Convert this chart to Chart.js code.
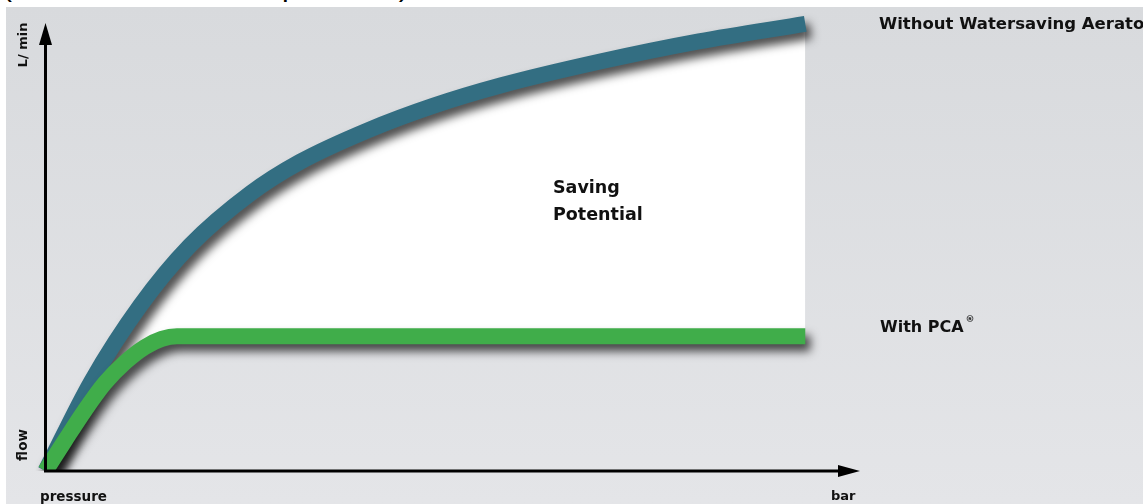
<!DOCTYPE html>
<html>
<head>
<meta charset="utf-8">
<script src="https://cdn.jsdelivr.net/npm/chart.js@4/dist/chart.umd.min.js"></script>
<style>
	html, body { margin: 0; padding: 0; background: #fff; }
	#wrap { position: relative; width: 1143px; height: 504px; overflow: hidden; background: #fff; }
	#cut { position: absolute; left: 0; top: 0; width: 1143px; height: 7px; overflow: hidden; }
	#cut span { position: absolute; left: 2px; top: -29px; font: 30px/30px "Liberation Sans", Arial, sans-serif; color: #000; white-space: nowrap; }
	#panel { position: absolute; left: 6px; top: 7px; width: 1137px; height: 497px; background: linear-gradient(to bottom, #d8dadd, #e4e5e8); }
	#myChart { position: absolute; left: 0; top: 0; }
</style>
</head>
<body>
<div id="wrap">
	<div id="cut"><span>(Flow rate relative to pressure)</span></div>
	<div id="panel"></div>
	<canvas id="myChart" width="1143" height="504"></canvas>
</div>
<script>
// pressure (x) and flow (y), in % of the blue end point
var pressureWithout = [0, 6, 12.5, 19, 27, 33.5, 42.5, 51, 60, 73, 86, 100];
var flowWithout = [0, 19.9, 37, 50.3, 62, 69, 76.1, 81.5, 86.1, 91.4, 95.9, 99.8];
var pressurePCA = [0, 2.6, 5.2, 7.8, 10.5, 13.1, 15.3, 17.3, 100];
var flowPCA = [0, 6.9, 13.6, 19.6, 24.3, 27.7, 29.5, 30.1, 30.1];

var seriesLabels = ['With PCA', 'Without Watersaving Aerator'];

function toPoints(xs, ys) {
	var pts = [];
	for (let i = 0; i < xs.length; i++) {
		pts.push({x: xs[i], y: ys[i]});
	}
	return pts;
}

var shadowPlugin = {
	id: 'shadow',
	beforeDatasetDraw: function(chart) {
		var ctx = chart.ctx;
		ctx.save();
		ctx.shadowColor = 'rgba(0,0,0,0.7)';
		ctx.shadowBlur = 10;
		ctx.shadowOffsetX = 5;
		ctx.shadowOffsetY = 7;
	},
	afterDatasetDraw: function(chart) {
		chart.ctx.restore();
	}
};

var axesPlugin = {
	id: 'arrows',
	afterDatasetsDraw: function(chart) {
		var ctx = chart.ctx;
		var xs = chart.scales.x, ys = chart.scales.y;
		var x0 = xs.getPixelForValue(0), y0 = ys.getPixelForValue(0);
		var xEnd = xs.right, yEnd = ys.top;
		ctx.save();
		ctx.strokeStyle = '#000';
		ctx.fillStyle = '#000';
		ctx.lineWidth = 3;
		ctx.beginPath();
		ctx.moveTo(x0, y0 + 1.5);
		ctx.lineTo(x0, yEnd + 16);
		ctx.moveTo(x0 - 1.5, y0);
		ctx.lineTo(xEnd - 16, y0);
		ctx.stroke();
		// arrow heads
		ctx.beginPath();
		ctx.moveTo(x0, yEnd);
		ctx.lineTo(x0 - 6.5, yEnd + 22);
		ctx.lineTo(x0 + 6.5, yEnd + 22);
		ctx.closePath();
		ctx.fill();
		ctx.beginPath();
		ctx.moveTo(xEnd, y0);
		ctx.lineTo(xEnd - 22, y0 - 6);
		ctx.lineTo(xEnd - 22, y0 + 6);
		ctx.closePath();
		ctx.fill();
		ctx.restore();
	}
};

var textPlugin = {
	id: 'labels',
	afterDraw: function(chart) {
		var ctx = chart.ctx;
		var area = chart.chartArea;
		ctx.save();
		ctx.fillStyle = '#111';
		ctx.textBaseline = 'alphabetic';
		ctx.textAlign = 'left';
		// axis names
		ctx.font = 'bold 13.5px "DejaVu Sans"';
		ctx.fillText('pressure', 40, 500.5);
		ctx.font = 'bold 13px "DejaVu Sans"';
		ctx.fillText('bar', 831, 500);
		ctx.save();
		ctx.translate(26.5, 45);
		ctx.rotate(-Math.PI / 2);
		ctx.textAlign = 'center';
		ctx.font = 'bold 13px "DejaVu Sans"';
		ctx.fillText('L/ min', 0, 0);
		ctx.restore();
		ctx.save();
		ctx.translate(27, 445);
		ctx.rotate(-Math.PI / 2);
		ctx.textAlign = 'center';
		ctx.font = 'bold 13.5px "DejaVu Sans"';
		ctx.fillText('flow', 0, 0);
		ctx.restore();
		// series names on the right
		ctx.font = 'bold 16.5px "DejaVu Sans"';
		ctx.fillText(seriesLabels[1], area.right + 19, 29);
		ctx.font = 'bold 16px "DejaVu Sans"';
		ctx.fillText(seriesLabels[0], 880, 332);
		var w = ctx.measureText(seriesLabels[0]).width;
		ctx.font = 'bold 9px "DejaVu Sans"';
		ctx.fillText('®', 880 + w + 2, 322);
		// area label
		ctx.font = 'bold 17.5px "DejaVu Sans"';
		ctx.fillText('Saving', 553, 193);
		ctx.fillText('Potential', 553, 220);
		ctx.restore();
	}
};

var ctx = document.getElementById("myChart");
var myChart = new Chart(ctx, {
	type: 'line',
	data: {
		datasets: [{
			label: seriesLabels[0],
			data: toPoints(pressurePCA, flowPCA),
			borderColor: '#40ad4a',
			borderWidth: 16,
			borderCapStyle: 'butt',
			cubicInterpolationMode: 'monotone',
			pointRadius: 0,
			fill: false,
			clip: {left: 10, top: 30, right: 30, bottom: 0}
		}, {
			label: seriesLabels[1],
			data: toPoints(pressureWithout, flowWithout),
			borderColor: '#336e82',
			borderWidth: 16,
			borderCapStyle: 'butt',
			cubicInterpolationMode: 'monotone',
			pointRadius: 0,
			fill: {target: 0, above: '#ffffff', below: '#ffffff'},
			clip: {left: 10, top: 30, right: 30, bottom: 0}
		}]
	},
	options: {
		responsive: false,
		animation: false,
		events: [],
		layout: {
			padding: {left: 45.5, right: 283, top: 23, bottom: 33}
		},
		scales: {
			x: {type: 'linear', display: false, min: 0, max: 107.2},
			y: {type: 'linear', display: false, min: 0, max: 100}
		},
		plugins: {
			legend: {display: false},
			tooltip: {enabled: false},
			filler: {drawTime: 'beforeDatasetsDraw'}
		}
	},
	plugins: [shadowPlugin, axesPlugin, textPlugin]
});
</script>
</body>
</html>
